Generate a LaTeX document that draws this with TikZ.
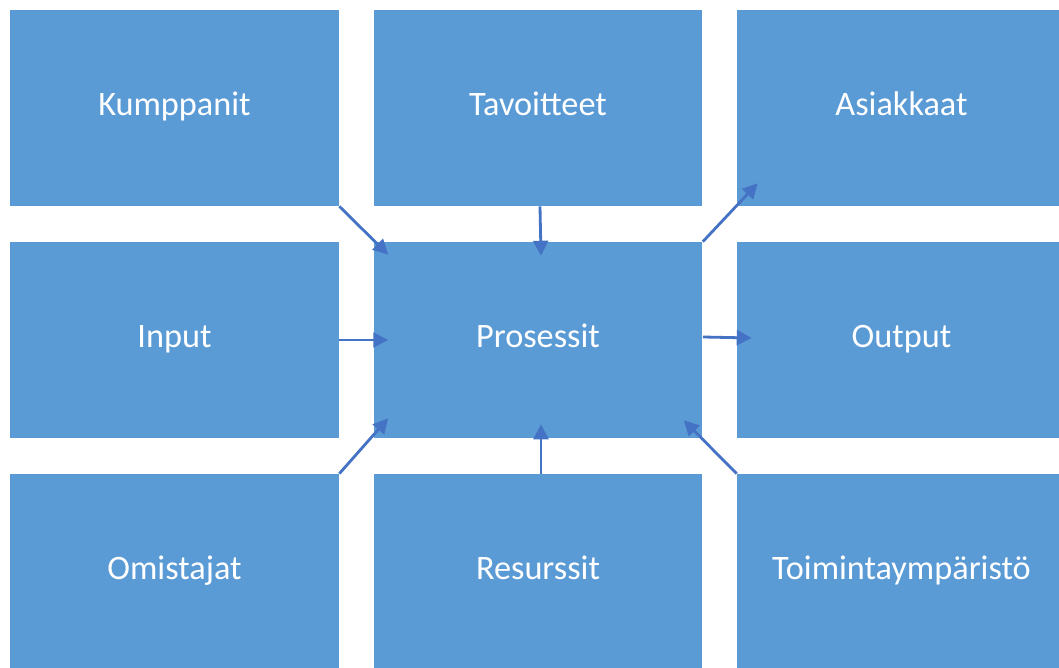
\documentclass[tikz,border=0pt]{standalone}
\usepackage{fontspec}
\setmainfont{Carlito}
\usepackage{tikz}
\usetikzlibrary{arrows.meta}
\usetikzlibrary{calc}

\definecolor{boxblue}{HTML}{5B9BD5}
\definecolor{arrowblue}{HTML}{4472C4}

\tikzset{
  block/.style={fill=boxblue, draw=none, text=white, inner sep=0cm,
    minimum width=6.58cm, minimum height=3.92cm,
    text height=1.05em, text depth=0.15em,
    font=\fontsize{19.5}{23}\selectfont},
  flow/.style={draw=arrowblue, line width=1.6pt,
    -{Triangle[length=8.5pt,width=8.5pt]}}
}

\begin{document}
\begin{tikzpicture}[x=0.02cm, y=-0.02cm]
\useasboundingbox (0,0) rectangle (1059,668);
\clip (0,0) rectangle (1059,668);

\node[block] (kump) at (174.5, 108) {Kumppanit};
\node[block] (tav) at (538, 108) {Tavoitteet};
\node[block] (asi) at (901.5, 108) {Asiakkaat};
\node[block] (inp) at (174.5, 340) {Input};
\node[block] (pros) at (538, 340) {Prosessit};
\node[block] (out) at (901.5, 340) {Output};
\node[block] (omi) at (174.5, 572) {Omistajat};
\node[block] (res) at (538, 572) {Resurssit};
\node[block] (toi) at (901.5, 572) {Toimintaympäristö};

\draw[flow] (kump.south east) -- ($(pros.north west)+(15,13)$);
\draw[flow] ($(tav.south)+(2,0)$) -- ($(pros.north)+(3,14)$);
\draw[flow] (pros.north east) -- ($(asi.south west)+(21,-23)$);
\draw[flow] (inp.east) -- ($(pros.west)+(15,0)$);
\draw[flow] ($(pros.east)+(0,-3)$) -- ($(out.west)+(15,-2)$);
\draw[flow] (omi.north east) -- ($(pros.south west)+(15,-20)$);
\draw[flow] ($(res.north)+(3,0)$) -- ($(pros.south)+(3,-14)$);
\draw[flow] (toi.north west) -- ($(pros.south east)+(-19,-18)$);
\end{tikzpicture}
\end{document}
